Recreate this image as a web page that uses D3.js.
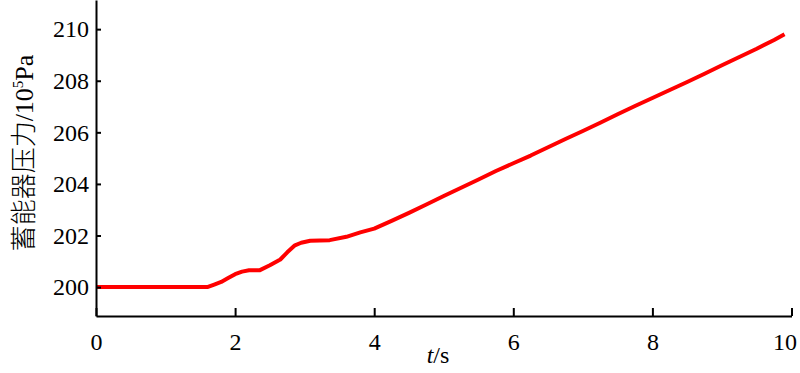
<!DOCTYPE html>
<html>
<head>
<meta charset="utf-8">
<title></title>
<script src="https://d3js.org/d3.v7.min.js"></script>
<style>
  body { margin: 0; background: #fff; }
  svg { display: block; }
</style>
</head>
<body>
<svg width="800" height="373"></svg>
<script>
// time (s) and accumulator pressure (10^5 Pa)
var times = [0, 1.6, 1.7, 1.8, 1.9, 2.0, 2.1, 2.2, 2.35, 2.5, 2.65, 2.75, 2.86, 2.95, 3.08, 3.36, 3.6, 3.8,
  4.0, 4.25, 4.5, 4.75, 5.0, 5.25, 5.5, 5.75, 6.0, 6.25, 6.5, 6.75, 7.0, 7.25, 7.5, 7.75,
  8.0, 8.25, 8.5, 8.75, 9.0, 9.25, 9.5, 9.75, 9.9];
var pressure = [200.0, 200.0, 200.1, 200.2, 200.35, 200.5, 200.6, 200.65, 200.65, 200.85, 201.07, 201.35, 201.62, 201.72, 201.8, 201.82, 201.95, 202.12,
  202.27, 202.57, 202.88, 203.2, 203.53, 203.85, 204.17, 204.5, 204.8, 205.1, 205.42, 205.74, 206.05, 206.37, 206.7, 207.02,
  207.33, 207.64, 207.95, 208.27, 208.6, 208.92, 209.24, 209.58, 209.8];
var xTicks = [0, 2, 4, 6, 8, 10];
var yTicks = [200, 202, 204, 206, 208, 210];

var svg = d3.select("svg");
var serif = "'Liberation Serif', 'Times New Roman', serif";

var x = d3.scaleLinear().domain([0, 10]).range([96, 791.5]);
var y = d3.scaleLinear().domain([198.88, 211.13]).range([316, 0]);

var data = times.map(function(t, i) { return {t: t, p: pressure[i]}; });

var line = d3.line()
  .x(function(d) { return x(d.t); })
  .y(function(d) { return y(d.p); });

svg.append("path")
  .datum(data)
  .attr("fill", "none")
  .attr("stroke", "#ff0000")
  .attr("stroke-width", 4)
  .attr("stroke-linejoin", "round")
  .attr("d", line);

var gx = svg.append("g")
  .attr("transform", "translate(0,316)")
  .call(d3.axisBottom(x).tickValues(xTicks).tickSizeInner(-8).tickSizeOuter(0).tickPadding(17));

var gy = svg.append("g")
  .attr("transform", "translate(96,0)")
  .call(d3.axisLeft(y).tickValues(yTicks).tickSizeInner(-5).tickSizeOuter(0).tickPadding(7));

[gx, gy].forEach(function(g) {
  g.select(".domain").attr("stroke", "#000").attr("stroke-width", 2);
  g.selectAll(".tick line").attr("stroke", "#000").attr("stroke-width", 2);
  g.selectAll(".tick text")
    .attr("fill", "#000")
    .style("font-family", serif)
    .style("font-size", "24px");
});
// last label sits against the right edge
gx.selectAll(".tick text").filter(function(d) { return d === 10; }).attr("x", -7);

// x title
var xt = svg.append("text")
  .attr("x", 438)
  .attr("y", 363)
  .attr("text-anchor", "middle")
  .style("font-family", serif)
  .style("font-size", "24px");
xt.append("tspan").style("font-style", "italic").text("t");
xt.append("tspan").text("/s");

// y title
var yt = svg.append("text")
  .attr("transform", "translate(33,153) rotate(-90)")
  .attr("text-anchor", "middle")
  .style("font-size", "26px");
yt.append("tspan").style("font-family", "'Noto Sans CJK SC', sans-serif").style("font-weight", 300).text("蓄能器压力");
yt.append("tspan").style("font-family", serif).text("/10");
yt.append("tspan").style("font-family", serif).style("font-size", "15px").attr("dy", -10).text("5");
yt.append("tspan").style("font-family", serif).attr("dy", 10).text("Pa");
</script>
</body>
</html>
